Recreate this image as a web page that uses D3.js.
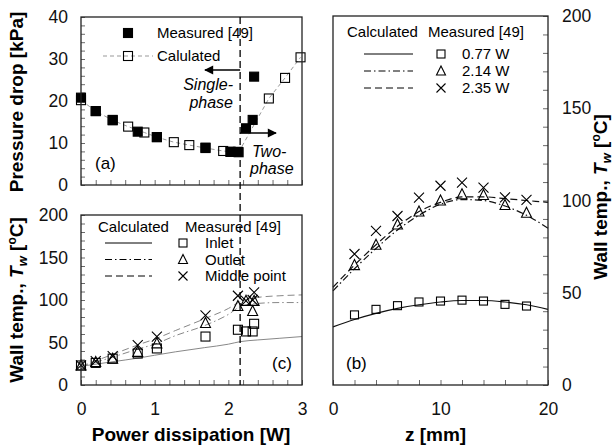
<!DOCTYPE html>
<html>
<head>
<meta charset="utf-8">
<script src="https://cdn.jsdelivr.net/npm/d3@7"></script>
<style>
  body { margin: 0; background: #fff; }
  text { font-family: "Liberation Sans", Arial, sans-serif; }
</style>
</head>
<body>
<div id="chart"></div>
<script>
// ---------- data ----------
// (a) pressure drop vs power
const powerMeas = [0, 0.2, 0.43, 0.77, 1.03, 1.69, 2.03, 2.13, 2.24, 2.33, 2.35];
const dpMeas    = [20.8, 17.6, 15.5, 12.7, 11.4, 8.9, 7.9, 7.9, 13.5, 15.5, 25.8];
const powerCalc = [0, 0.2, 0.43, 0.64, 0.86, 1.03, 1.26, 1.47, 1.69, 1.93, 2.03, 2.14, 2.55, 2.77, 2.98];
const dpCalc    = [20.2, 17.6, 15.4, 13.9, 12.5, 11.4, 10.2, 9.5, 8.8, 8.1, 7.9, 7.8, 20.6, 25.5, 30.4];

// (c) wall temp vs power
const powerT   = [0, 0.2, 0.43, 0.77, 1.03, 1.69, 2.13, 2.24, 2.33, 2.35];
const tInlet   = [23, 26, 31, 37, 43, 57, 65, 63, 63, 72];
const tOutlet  = [23, 27, 31, 39, 49, 73, 93, 99, 87, 99];
const tMiddle  = [23, 28, 34, 47, 57, 82, 105, 99, 100, 109];
const powerTc  = [0, 0.4, 0.8, 1.0, 1.28, 1.68, 2.0, 2.16, 2.4, 2.7, 3];
const tcInlet  = [22, 27, 32, 35, 39, 44, 48, 51, 53, 55, 57];
const tcOutlet = [22, 32, 43, 48, 58, 70, 83, 92, 96, 97, 97];
const tcMiddle = [22, 35, 48, 54, 64, 78, 90, 98, 103, 105, 106];

// (b) wall temp along z
const zMeas = [2, 4, 6, 8, 10, 12, 14, 16, 18];
const m077  = [38, 41, 43, 45, 45.5, 46, 45.5, 43.7, 42.8];
const m214  = [65, 76, 87, 94, 100, 103.4, 103, 97.6, 93.4];
const m235  = [71, 83.5, 91.6, 101.5, 108, 109.7, 107, 101.7, 100.3];
const zCalc = [0, 2, 4, 6, 8, 10, 12, 14, 16, 18, 20];
const c077  = [31.5, 35.5, 38.8, 41.5, 43.5, 45, 45.8, 45.8, 45, 43.5, 41];
const c214  = [51, 63, 74, 84, 92, 98, 100.5, 100, 97, 92, 85];
const c235  = [53, 65, 76, 86, 94, 99, 102, 102, 101, 100, 99];

const transition = 2.16;   // single/two-phase boundary [W]

// ---------- svg ----------
const W = 616, H = 445;
const svg = d3.select("#chart").append("svg").attr("width", W).attr("height", H);

const DASH = "7,4", DASHDOT = "7,3,1.5,3";
const TICK_FS = 17.5, LEG_FS = 15, TITLE_FS = 19;

// scales
const xP = d3.scaleLinear().domain([0, 3]).range([81, 302]);
const yA = d3.scaleLinear().domain([0, 40]).range([185, 17]);
const yC = d3.scaleLinear().domain([0, 200]).range([385, 215]);
const xZ = d3.scaleLinear().domain([0, 20]).range([333, 548]);
const yB = d3.scaleLinear().domain([0, 200]).range([385, 16]);

// marker shapes
function sq(g, x, y, s, fill) {
  g.append("rect").attr("x", x - s / 2).attr("y", y - s / 2).attr("width", s).attr("height", s)
   .attr("fill", fill ? "#000" : "#fff").attr("fill-opacity", fill ? 1 : 0)
   .attr("stroke", "#000").attr("stroke-width", 1.1);
}
function tri(g, x, y, s) {
  const h = s * 0.9;
  g.append("path").attr("d", `M${x},${y - h / 2 - 1}L${x + s / 2},${y + h / 2}L${x - s / 2},${y + h / 2}Z`)
   .attr("fill", "none").attr("stroke", "#000").attr("stroke-width", 1.1);
}
function cross(g, x, y, s) {
  const r = s / 2;
  g.append("path").attr("d", `M${x - r},${y - r}L${x + r},${y + r}M${x - r},${y + r}L${x + r},${y - r}`)
   .attr("fill", "none").attr("stroke", "#000").attr("stroke-width", 1.1);
}

function frame(x0, x1, y0, y1) {
  svg.append("rect").attr("x", x0).attr("y", y1).attr("width", x1 - x0).attr("height", y0 - y1)
     .attr("fill", "none").attr("stroke", "#222").attr("stroke-width", 1.3);
}

function styleAxis(g) {
  g.select(".domain").remove();
  g.selectAll("line").attr("stroke", "#444").attr("stroke-width", 0.8);
  g.selectAll("text").attr("font-size", TICK_FS).attr("fill", "#111")
   .attr("font-family", "'Liberation Sans', Arial, sans-serif");
}

const lineGen = (xs, ys, sx, sy) => d3.line().curve(d3.curveMonotoneX)
  .x((d, i) => sx(xs[i])).y(d => sy(d))(ys);

// ================= panel (a) =================
const ga = svg.append("g");
ga.append("g").attr("transform", `translate(0,${yA(0)})`)
  .call(d3.axisBottom(xP).tickValues(d3.range(0, 3.01, 0.2)).tickSize(-5).tickFormat(""))
  .call(styleAxis);
ga.append("g").attr("transform", `translate(${xP(0)},0)`)
  .call(d3.axisLeft(yA).tickValues(d3.range(0, 40.1, 2)).tickSize(-4).tickPadding(13)
        .tickFormat(d => d % 10 === 0 ? d : ""))
  .call(styleAxis);
frame(xP(0), xP(3), yA(0), yA(40));

ga.append("path").attr("d", d3.line().x((d, i) => xP(powerCalc[i])).y(d => yA(d))(dpCalc))
  .attr("fill", "none").attr("stroke", "#999").attr("stroke-width", 1).attr("stroke-dasharray", "4,3");
powerCalc.forEach((p, i) => sq(ga, xP(p), yA(dpCalc[i]), 9, false));
powerMeas.forEach((p, i) => sq(ga, xP(p), yA(dpMeas[i]), 9, true));

// legend (a)
sq(ga, 128, 33, 9, true);
ga.append("text").attr("x", 157).attr("y", 38).attr("font-size", LEG_FS).text("Measured [49]");
ga.append("line").attr("x1", 103).attr("x2", 153).attr("y1", 56).attr("y2", 56)
  .attr("stroke", "#999").attr("stroke-dasharray", "4,3");
sq(ga, 128, 56, 9, false);
ga.append("text").attr("x", 157).attr("y", 61).attr("font-size", LEG_FS).text("Calulated");
ga.append("text").attr("x", 95).attr("y", 169).attr("font-size", 17).text("(a)");

// arrows
const defs = svg.append("defs");
defs.append("marker").attr("id", "arr").attr("viewBox", "0 0 10 10").attr("refX", 9).attr("refY", 5)
  .attr("markerWidth", 9).attr("markerHeight", 7).attr("orient", "auto")
  .append("path").attr("d", "M0,0L10,5L0,10Z").attr("fill", "#000");
ga.append("line").attr("x1", xP(transition)).attr("x2", 205).attr("y1", 70).attr("y2", 70)
  .attr("stroke", "#000").attr("stroke-width", 1.3).attr("marker-end", "url(#arr)");
ga.append("line").attr("x1", xP(transition)).attr("x2", 276).attr("y1", 133).attr("y2", 133)
  .attr("stroke", "#000").attr("stroke-width", 1.3).attr("marker-end", "url(#arr)");
ga.append("text").attr("x", 233).attr("y", 90).attr("text-anchor", "end").attr("font-size", 16)
  .attr("font-style", "italic").text("Single-");
ga.append("text").attr("x", 233).attr("y", 108).attr("text-anchor", "end").attr("font-size", 16)
  .attr("font-style", "italic").text("phase");
ga.append("text").attr("x", 252).attr("y", 157).attr("font-size", 16)
  .attr("font-style", "italic").text("Two-");
ga.append("text").attr("x", 250).attr("y", 174).attr("font-size", 16)
  .attr("font-style", "italic").text("phase");

// y title (a)
ga.append("text").attr("transform", "translate(23,102) rotate(-90)").attr("text-anchor", "middle")
  .attr("font-size", TITLE_FS).attr("font-weight", "bold").text("Pressure drop [kPa]");

// ================= panel (c) =================
const gc = svg.append("g");
gc.append("g").attr("transform", `translate(0,${yC(0)})`)
  .call(d3.axisBottom(xP).tickValues(d3.range(0, 3.01, 0.2)).tickSize(-5).tickPadding(18)
        .tickFormat(d => Math.abs(d - Math.round(d)) < 1e-6 ? Math.round(d) : ""))
  .call(styleAxis);
gc.append("g").attr("transform", `translate(${xP(0)},0)`)
  .call(d3.axisLeft(yC).tickValues(d3.range(0, 201, 10)).tickSize(-4).tickPadding(13)
        .tickFormat(d => d % 50 === 0 ? d : ""))
  .call(styleAxis);
frame(xP(0), xP(3), yC(0), yC(200));

[[tcInlet, null], [tcOutlet, DASHDOT], [tcMiddle, DASH]].forEach(([ys, da]) => {
  gc.append("path").attr("d", lineGen(powerTc, ys, xP, yC))
    .attr("fill", "none").attr("stroke", "#888").attr("stroke-width", 1)
    .attr("stroke-dasharray", da);
});
powerT.forEach((p, i) => {
  sq(gc, xP(p), yC(tInlet[i]), 9, false);
  tri(gc, xP(p), yC(tOutlet[i]), 10);
  cross(gc, xP(p), yC(tMiddle[i]), 10);
});

// legend (c)
gc.append("text").attr("x", 98).attr("y", 232).attr("font-size", LEG_FS).text("Calculated");
gc.append("text").attr("x", 185).attr("y", 232).attr("font-size", LEG_FS).text("Measured [49]");
[[null, "Inlet", "sq"], [DASHDOT, "Outlet", "tri"], [DASH, "Middle point", "x"]].forEach(([da, lab, m], i) => {
  const yy = 243 + i * 16.5;
  gc.append("line").attr("x1", 105).attr("x2", 152).attr("y1", yy).attr("y2", yy)
    .attr("stroke", "#000").attr("stroke-width", 1).attr("stroke-dasharray", da);
  if (m === "sq") sq(gc, 183, yy, 8, false);
  else if (m === "tri") tri(gc, 183, yy, 9);
  else cross(gc, 183, yy, 9);
  gc.append("text").attr("x", 205).attr("y", yy + 5).attr("font-size", LEG_FS).text(lab);
});
gc.append("text").attr("x", 272).attr("y", 369).attr("font-size", 17).text("(c)");

gc.append("text").attr("x", 191).attr("y", 441).attr("text-anchor", "middle")
  .attr("font-size", TITLE_FS).attr("font-weight", "bold").text("Power dissipation [W]");

function wallTitle(g, x, y) {
  const t = g.append("text").attr("transform", `translate(${x},${y}) rotate(-90)`)
    .attr("text-anchor", "middle").attr("font-size", TITLE_FS).attr("font-weight", "bold");
  t.append("tspan").text("Wall temp., ");
  t.append("tspan").attr("font-style", "italic").text("T");
  t.append("tspan").attr("font-style", "italic").attr("font-size", 13).attr("dy", 4).text("w");
  t.append("tspan").attr("dy", -4).text(" [");
  t.append("tspan").attr("font-size", 12).attr("dy", -7).text("o");
  t.append("tspan").attr("dy", 7).text("C]");
}
wallTitle(gc, 23, 300);

// dashed boundary line across (a) and (c)
svg.append("line").attr("x1", xP(transition)).attr("x2", xP(transition))
  .attr("y1", yA(40)).attr("y2", yC(0))
  .attr("stroke", "#000").attr("stroke-width", 1.3).attr("stroke-dasharray", "7,4");

// ================= panel (b) =================
const gb = svg.append("g");
gb.append("g").attr("transform", `translate(0,${yB(0)})`)
  .call(d3.axisBottom(xZ).tickValues(d3.range(0, 20.1, 2)).tickSize(-5).tickPadding(18)
        .tickFormat(d => d % 10 === 0 ? d : ""))
  .call(styleAxis);
gb.append("g").attr("transform", `translate(${xZ(20)},0)`)
  .call(d3.axisRight(yB).tickValues(d3.range(0, 201, 10)).tickSize(-5).tickPadding(14)
        .tickFormat(d => d % 50 === 0 ? d : ""))
  .call(styleAxis);
frame(xZ(0), xZ(20), yB(0), yB(200));

[[c077, null], [c214, DASHDOT], [c235, DASH]].forEach(([ys, da]) => {
  gb.append("path").attr("d", lineGen(zCalc, ys, xZ, yB))
    .attr("fill", "none").attr("stroke", "#111").attr("stroke-width", 1.2)
    .attr("stroke-dasharray", da);
});
zMeas.forEach((z, i) => {
  sq(gb, xZ(z), yB(m077[i]), 8, false);
  tri(gb, xZ(z), yB(m214[i]), 10);
  cross(gb, xZ(z), yB(m235[i]), 10);
});

// legend (b)
gb.append("text").attr("x", 347).attr("y", 37).attr("font-size", LEG_FS).text("Calculated");
gb.append("text").attr("x", 428).attr("y", 37).attr("font-size", LEG_FS).text("Measured [49]");
[[null, "0.77 W", "sq"], [DASHDOT, "2.14 W", "tri"], [DASH, "2.35 W", "x"]].forEach(([da, lab, m], i) => {
  const yy = 54 + i * 17;
  gb.append("line").attr("x1", 364).attr("x2", 413).attr("y1", yy).attr("y2", yy)
    .attr("stroke", "#000").attr("stroke-width", 1).attr("stroke-dasharray", da);
  if (m === "sq") sq(gb, 441, yy, 8, false);
  else if (m === "tri") tri(gb, 441, yy, 9);
  else cross(gb, 441, yy, 9);
  gb.append("text").attr("x", 462).attr("y", yy + 5).attr("font-size", LEG_FS).text(lab);
});
gb.append("text").attr("x", 346).attr("y", 369).attr("font-size", 17).text("(b)");

gb.append("text").attr("x", xZ(10) - 5).attr("y", 441).attr("text-anchor", "middle")
  .attr("font-size", TITLE_FS).attr("font-weight", "bold").text("z [mm]");
wallTitle(gb, 607, 197);
</script>
</body>
</html>
